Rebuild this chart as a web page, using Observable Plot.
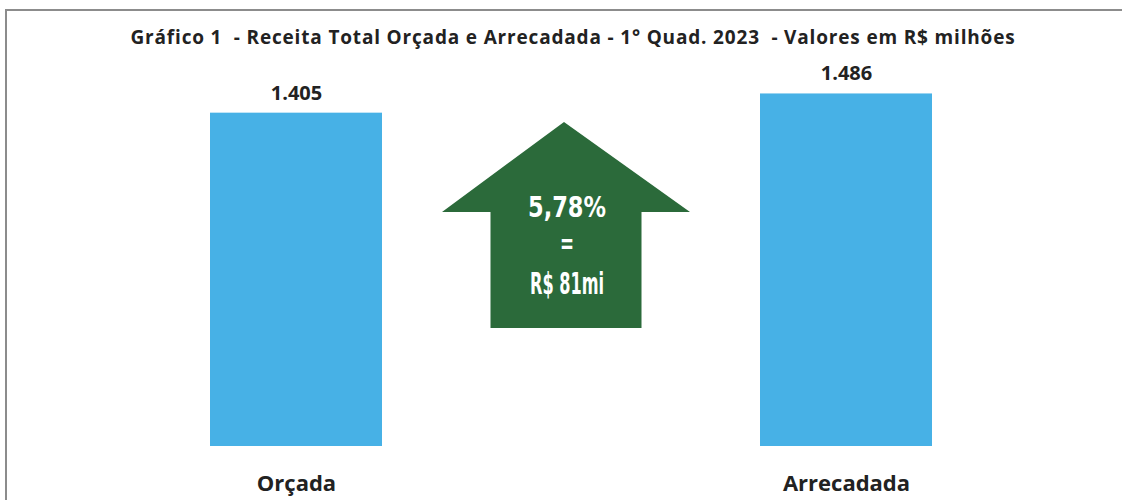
<!DOCTYPE html>
<html><head><meta charset="utf-8">
<script src="https://cdn.jsdelivr.net/npm/d3@7"></script>
<script src="https://cdn.jsdelivr.net/npm/@observablehq/plot@0.6"></script>
<style>
html,body{margin:0;background:#fff;overflow:hidden}
body{width:1122px;height:500px;position:relative;font-family:"Open Sans",Lato,sans-serif}
#hline{position:absolute;left:5px;top:9px;width:1117px;height:2px;background:#8c8c8c;z-index:2}
#vline{position:absolute;left:5px;top:9px;width:2px;height:491px;background:#8c8c8c}
#cover{position:absolute;left:1108px;top:12px;width:14px;height:488px;background:#fff;z-index:3}
#title{height:60px;box-sizing:border-box;padding-top:26px;padding-left:24px;text-align:center;font-weight:bold;font-size:19px;line-height:22px;color:#222;white-space:pre}
#chart{position:relative}
</style></head><body>
<div id="hline"></div>
<div id="vline"></div>
<div id="title"><span id="tt">Gráfico 1  - Receita Total Orçada e Arrecadada - 1° Quad. 2023  - Valores em R$ milhões</span></div>
<div id="chart"></div>
<div id="cover"></div>
<script>
const categories = ["Orçada", "Arrecadada"];
const values = [1405, 1486];
const variationPct = "5,78%";
const variationSep = "=";
const variationAbs = "R$ 81mi";
const middle = "Δ";

// fit title width to the reference
const tt = document.getElementById("tt");
const w0 = tt.getBoundingClientRect().width;
tt.style.letterSpacing = ((885 - w0) / tt.textContent.length) + "px";

const data = categories.map((c, i) => ({cat: c, value: values[i]}));
const br = d3.formatLocale({decimal: ",", thousands: ".", grouping: [3], currency: ["R$ ", ""]});
const fmt = br.format(",d");

const W = 1122, ML = 210, MR = 190;
const xDomain = [categories[0], middle, categories[1]];

function arrowMark(index, scales, vals, dimensions) {
  let sx = scales && scales.x;
  let cxb = typeof sx === "function" ? sx(middle) : NaN;
  let bw = sx && sx.bandwidth;
  if (!isFinite(cxb) || !isFinite(bw)) {
    const b = d3.scaleBand(xDomain, [dimensions.marginLeft, dimensions.width - dimensions.marginRight]).paddingInner(0.375).paddingOuter(0);
    cxb = b(middle); bw = b.bandwidth();
  }
  const cx = cxb + bw / 2 - 5;
  const g = d3.create("svg:g");
  const tipY = 62, wingY = 152, botY = 268, halfWing = 124, halfShaft = 75.5;
  const pts = [[cx - 2, tipY], [cx + halfWing, wingY], [cx + halfShaft, wingY], [cx + halfShaft, botY],
               [cx - halfShaft, botY], [cx - halfShaft, wingY], [cx - halfWing, wingY]];
  g.append("path").attr("d", "M" + pts.map(p => p.join(",")).join("L") + "Z").attr("fill", "#2b6a3a");
  const lines = [[variationPct, 147, 78, 29], [variationSep, 183, 14, 29], [variationAbs, 223, 74, 31]];
  for (const [t, y, len, fs] of lines) {
    g.append("text").attr("x", cx + 1).attr("y", y).attr("dy", "0.36em")
      .attr("text-anchor", "middle").attr("fill", "#fff")
      .attr("font-family", "'DejaVu Sans Condensed','DejaVu Sans',sans-serif")
      .attr("font-stretch", "condensed")
      .attr("textLength", len).attr("lengthAdjust", "spacingAndGlyphs")
      .attr("font-weight", "bold").attr("font-size", fs).text(t);
  }
  return g.node();
}

const plot = Plot.plot({
  width: W,
  height: 440,
  marginLeft: ML,
  marginRight: MR,
  marginTop: 0,
  marginBottom: 54,
  style: {fontFamily: "'Open Sans', Lato, sans-serif", background: "transparent"},
  x: {domain: xDomain, paddingInner: 0.375, paddingOuter: 0},
  y: {domain: [0, 1627], axis: null},
  marks: [
    Plot.barY(data, {x: "cat", y: "value", fill: "#47b1e6"}),
    Plot.text(data, {x: "cat", y: "value", text: d => fmt(d.value), dy: -20, fontSize: 20, fontWeight: "bold", fill: "#222"}),
    arrowMark,
    Plot.axisX({ticks: categories, tickSize: 0, tickPadding: 29, fontSize: 22, fontWeight: "bold", fill: "#222", label: null})
  ]
});
document.getElementById("chart").appendChild(plot);
</script>
</body></html>
